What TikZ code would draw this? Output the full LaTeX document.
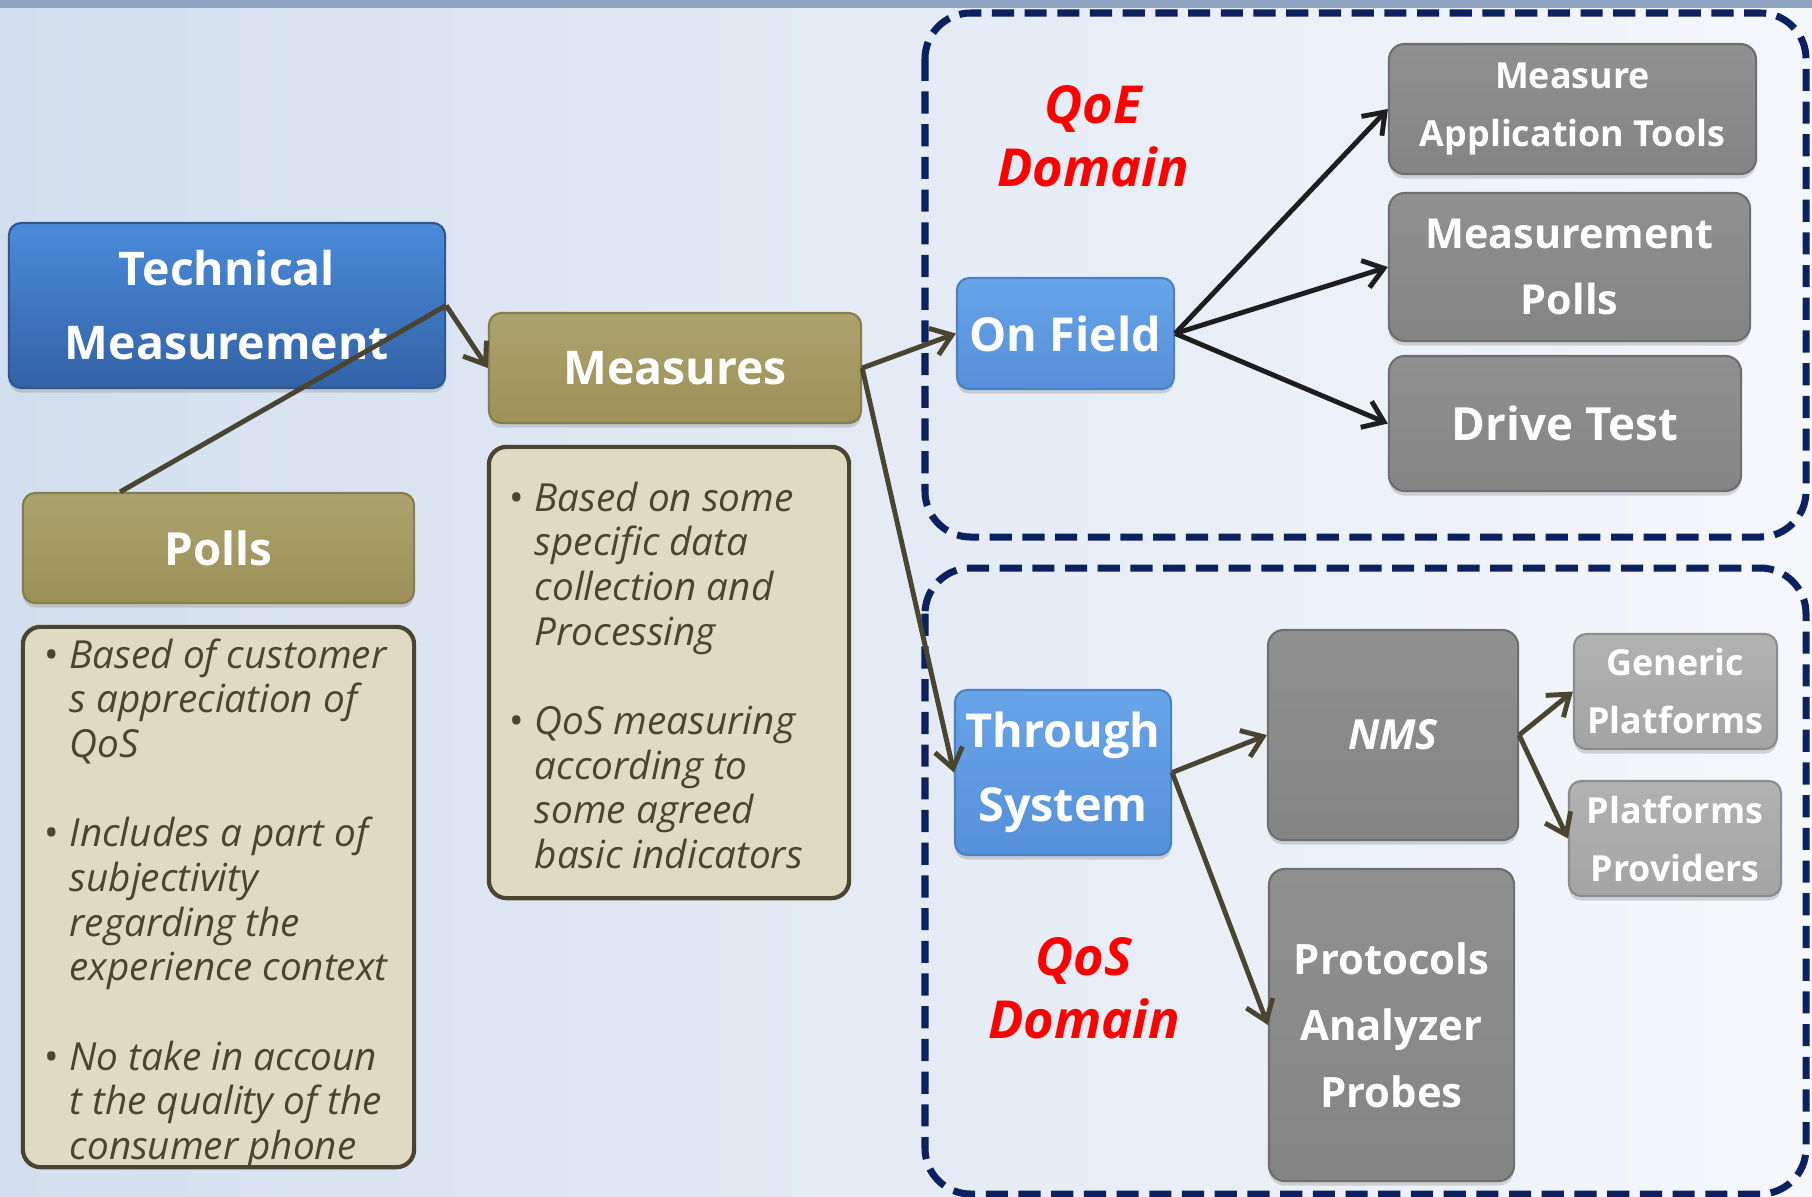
\documentclass[tikz,border=0pt]{standalone}
\usepackage{fontspec}
\setmainfont{Open Sans}
\usetikzlibrary{arrows.meta,shadows,calc}
\definecolor{bgL}{HTML}{D3DFEE}
\definecolor{bgR}{HTML}{F5F7FB}
\definecolor{stripc}{HTML}{8EA3C2}
\definecolor{tmTop}{HTML}{4A8BDA}
\definecolor{tmBot}{HTML}{3362A6}
\definecolor{tmLine}{HTML}{2E5690}
\definecolor{bluTop}{HTML}{68A4E8}
\definecolor{bluBot}{HTML}{5590DA}
\definecolor{bluLine}{HTML}{4A80C4}
\definecolor{oliveTop}{HTML}{ACA26E}
\definecolor{oliveBot}{HTML}{9C9158}
\definecolor{oliveLine}{HTML}{877D4C}
\definecolor{grayTop}{HTML}{909090}
\definecolor{grayBot}{HTML}{848484}
\definecolor{grayLine}{HTML}{6E6E6E}
\definecolor{lgTop}{HTML}{B2B2B2}
\definecolor{lgBot}{HTML}{A4A4A4}
\definecolor{lgLine}{HTML}{8C8C8C}
\definecolor{beige}{HTML}{E0DAC3}
\definecolor{dkolive}{HTML}{4A4530}
\definecolor{navy}{HTML}{0B2160}
\definecolor{qred}{HTML}{FF0000}
\definecolor{arrowdark}{HTML}{1E1E1E}
\newcommand\myfs[2]{\fontsize{#1pt}{#2pt}\selectfont}
\newcommand\bl{\llap{\upshape\textbullet\hspace{3pt}}}
\begin{document}
\begin{tikzpicture}[x=0.01cm,y=-0.01cm,
  mybox/.style={rounded corners=3.5pt, inner sep=0pt, align=center, text=white,
    drop shadow={shadow xshift=0pt,shadow yshift=-1.3pt,opacity=0.3}},
  tmbox/.style={mybox, top color=tmTop, bottom color=tmBot, draw=tmLine, line width=0.6pt},
  blubox/.style={mybox, top color=bluTop, bottom color=bluBot, draw=bluLine, line width=0.6pt},
  olbox/.style={mybox, top color=oliveTop, bottom color=oliveBot, draw=oliveLine, line width=0.6pt},
  grbox/.style={mybox, rounded corners=4.5pt, top color=grayTop, bottom color=grayBot, draw=grayLine, line width=0.6pt},
  lgbox/.style={mybox, top color=lgTop, bottom color=lgBot, draw=lgLine, line width=0.6pt},
  txtbox/.style={rounded corners=5pt, fill=beige, draw=dkolive, line width=1.2pt, inner sep=0pt},
  bodytext/.style={font=\itshape\myfs{11}{12.7}, text=dkolive, align=left, inner sep=0pt, anchor=north west},
  domainlbl/.style={font=\bfseries\itshape\myfs{14.9}{18}, text=qred, align=center, inner sep=0pt},
  domframe/.style={draw=navy, line width=2pt, dash pattern=on 6.3pt off 3pt, rounded corners=13pt},
  oline/.style={draw=dkolive, line width=1.4pt},
  oarrow/.style={oline, -{Straight Barb[length=5.5pt,width=8pt]}},
  darrow/.style={draw=arrowdark, line width=1.4pt, -{Straight Barb[length=5.5pt,width=8pt]}}
]
\useasboundingbox (0,0) rectangle (1812,1196);
\shade[left color=bgL, right color=bgR] (0,0) rectangle (1812,1196);
\fill[stripc] (0,0) rectangle (1812,8);

% domain frames
\draw[domframe] (925,13) rectangle (1806,537);
\draw[domframe] (925,568) rectangle (1806,1194);

% left part
\node[tmbox, minimum width=4.36cm, minimum height=1.65cm, font=\bfseries\myfs{13.2}{21}] (tm) at (227,305.5) {Technical\\Measurement};
\node[olbox, minimum width=3.72cm, minimum height=1.10cm, font=\bfseries\myfs{13.2}{21}] (meas) at (675,368) {Measures};
\node[olbox, minimum width=3.91cm, minimum height=1.10cm, font=\bfseries\myfs{13}{21}] (polls) at (218.5,548) {Polls};
\node[txtbox, minimum width=3.91cm, minimum height=5.40cm] (pollstxt) at (218.5,897) {};
\node[txtbox, minimum width=3.60cm, minimum height=4.51cm] (meastxt) at (669,672.5) {};
\node[bodytext] (pollsbody) at (69,638) {\bl Based of customer\\s appreciation of\\QoS\\[12.7pt]\bl Includes a part of\\subjectivity\\regarding the\\experience context\\[12.7pt]\bl No take in accoun\\t the quality of the\\consumer phone};
\node[bodytext] (measbody) at (534,481) {\bl Based on some\\specific data\\collection and\\Processing\\[12.7pt]\bl QoS measuring\\according to\\some agreed\\basic indicators};

% QoE domain
\node[domainlbl] (qoe) at (1093,136) {QoE\\Domain};
\node[blubox, minimum width=2.17cm, minimum height=1.11cm, font=\bfseries\myfs{13.3}{21}] (onfield) at (1065.5,333.5) {On Field};
\node[grbox, minimum width=3.67cm, minimum height=1.30cm, font=\bfseries\myfs{10.2}{16.5}] (mat) at (1572.5,109) {Measure\\Application Tools};
\node[grbox, minimum width=3.61cm, minimum height=1.48cm, font=\bfseries\myfs{11.75}{18.8}] (mpolls) at (1569.5,267) {Measurement\\Polls};
\node[grbox, minimum width=3.52cm, minimum height=1.35cm, font=\bfseries\myfs{13}{21}] (drive) at (1565,423.5) {Drive Test};

% QoS domain
\node[domainlbl] (qos) at (1084,988) {QoS\\Domain};
\node[blubox, minimum width=2.16cm, minimum height=1.65cm, font=\bfseries\myfs{13.3}{21}] (thru) at (1063,772.5) {Through\\System};
\node[grbox, minimum width=2.50cm, minimum height=2.10cm, font=\bfseries\itshape\myfs{11.8}{18}] (nms) at (1393,735) {NMS};
\node[grbox, minimum width=2.45cm, minimum height=3.12cm, font=\bfseries\myfs{11.9}{18.9}] (proto) at (1391.5,1025) {Protocols\\Analyzer\\Probes};
\node[lgbox, minimum width=2.03cm, minimum height=1.15cm, font=\bfseries\myfs{10.2}{16.5}] (generic) at (1675.5,691.5) {Generic\\Platforms};
\node[lgbox, minimum width=2.12cm, minimum height=1.15cm, font=\bfseries\myfs{10.2}{16.5}] (provid) at (1675,838.5) {Platforms\\Providers};

% connectors
\coordinate (pollstop) at ($(polls.north west)!0.25!(polls.north east)$);
\draw[oline] (tm.east) -- (pollstop);
\draw[oarrow] (tm.east) -- (meas.west);
\draw[oarrow] (meas.east) -- (onfield.west);
\draw[oarrow] (meas.east) -- (thru.west);
\draw[darrow] (onfield.east) -- (mat.west);
\draw[darrow] (onfield.east) -- (mpolls.west);
\draw[darrow] (onfield.east) -- (drive.west);
\draw[oarrow] (thru.east) -- (nms.west);
\draw[oarrow] (thru.east) -- (proto.west);
\draw[oarrow] (nms.east) -- (generic.west);
\draw[oarrow] (nms.east) -- (provid.west);
\end{tikzpicture}
\end{document}
